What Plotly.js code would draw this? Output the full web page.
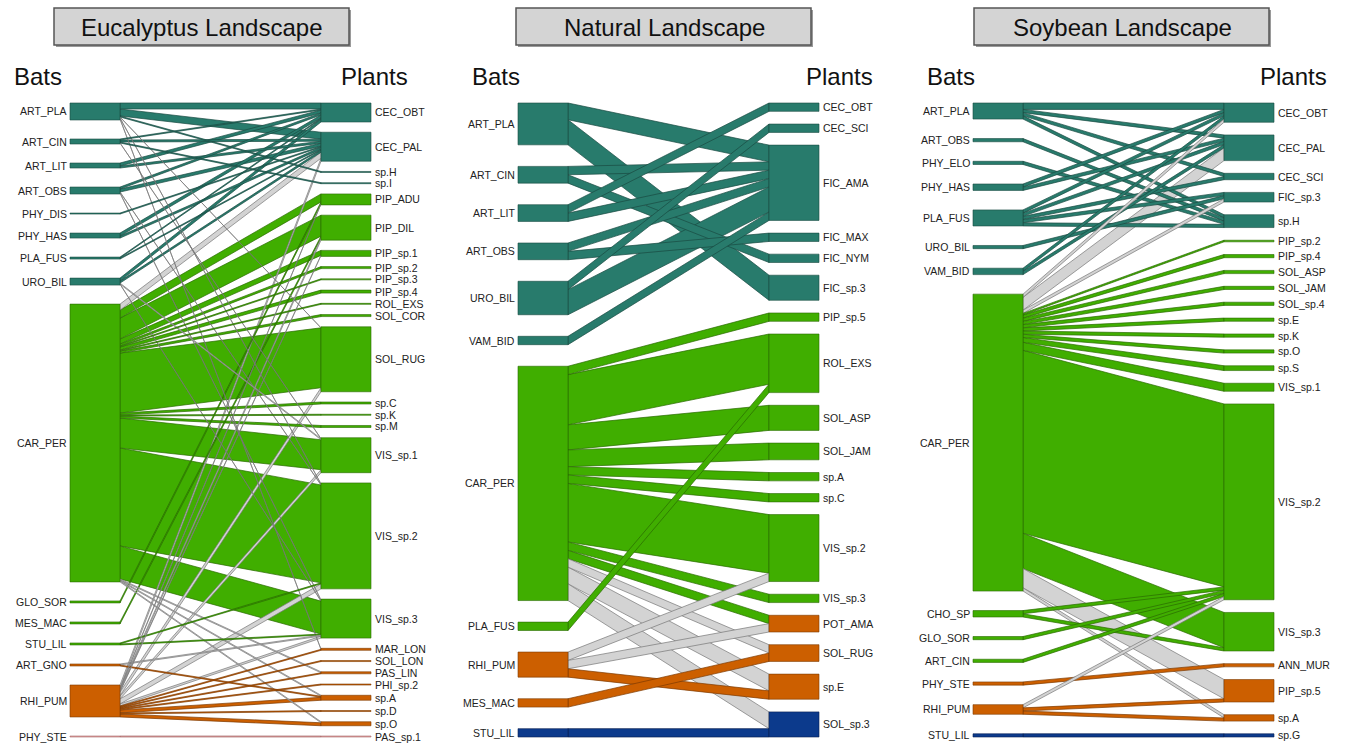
<!DOCTYPE html>
<html>
<head>
<meta charset="utf-8">
<script src="https://cdn.plot.ly/plotly-3.0.1.min.js"></script>
<style>
html, body { margin: 0; padding: 0; background: #ffffff; }
#chart { width: 1347px; height: 743px; }
</style>
</head>
<body>
<div id="chart"></div>
<script>
// Module keys: T = teal, G = green, O = orange, B = blue, P = pink, X = between modules.
// Links are [bat, plant, interactions, optional module override].

// ---------- Eucalyptus landscape ----------
const eucBats = ['ART_PLA','ART_CIN','ART_LIT','ART_OBS','PHY_DIS','PHY_HAS','PLA_FUS','URO_BIL',
  'CAR_PER','GLO_SOR','MES_MAC','STU_LIL','ART_GNO','RHI_PUM','PHY_STE'];
const eucBatModules = ['T','T','T','T','T','T','T','T','G','G','G','G','O','O','P'];
const eucPlants = ['CEC_OBT','CEC_PAL','sp.H','sp.I','PIP_ADU','PIP_DIL','PIP_sp.1','PIP_sp.2','PIP_sp.3',
  'PIP_sp.4','ROL_EXS','SOL_COR','SOL_RUG','sp.C','sp.K','sp.M','VIS_sp.1','VIS_sp.2','VIS_sp.3',
  'MAR_LON','SOL_LON','PAS_LIN','PHI_sp.2','sp.A','sp.D','sp.O','PAS_sp.1'];
const eucPlantModules = ['T','T','T','T','G','G','G','G','G','G','G','G','G','G','G','G','G','G','G',
  'O','O','O','O','O','O','O','P'];
const eucLinks = [
  ['ART_PLA','CEC_OBT',6],['ART_PLA','CEC_PAL',7],['ART_PLA','sp.H',1],['ART_PLA','SOL_RUG',1],
  ['ART_PLA','VIS_sp.2',1],['ART_PLA','MAR_LON',1],
  ['ART_CIN','CEC_OBT',1],['ART_CIN','CEC_PAL',2],['ART_CIN','sp.I',1],['ART_CIN','VIS_sp.1',1],
  ['ART_LIT','CEC_OBT',3],['ART_LIT','CEC_PAL',2],
  ['ART_OBS','CEC_OBT',2],['ART_OBS','CEC_PAL',3],['ART_OBS','VIS_sp.2',1],['ART_OBS','VIS_sp.3',1],
  ['PHY_DIS','CEC_PAL',1],
  ['PHY_HAS','CEC_OBT',3],['PHY_HAS','CEC_PAL',2],
  ['PLA_FUS','CEC_OBT',1],['PLA_FUS','CEC_PAL',1],
  ['URO_BIL','CEC_OBT',3],['URO_BIL','CEC_PAL',2],['URO_BIL','VIS_sp.1',1],['URO_BIL','VIS_sp.3',1],
  ['CAR_PER','CEC_PAL',6],['CAR_PER','PIP_ADU',8],['CAR_PER','PIP_DIL',21],['CAR_PER','PIP_sp.1',5],
  ['CAR_PER','PIP_sp.2',2],['CAR_PER','PIP_sp.3',1],['CAR_PER','PIP_sp.4',3],['CAR_PER','ROL_EXS',1],
  ['CAR_PER','SOL_COR',2],['CAR_PER','SOL_RUG',60],['CAR_PER','sp.C',2],['CAR_PER','sp.K',1],
  ['CAR_PER','sp.M',2],['CAR_PER','VIS_sp.1',30],['CAR_PER','VIS_sp.2',98],['CAR_PER','VIS_sp.3',33],
  ['CAR_PER','PAS_LIN',1],['CAR_PER','sp.A',1],['CAR_PER','sp.O',1],
  ['GLO_SOR','PIP_ADU',2],
  ['MES_MAC','PIP_DIL',2],
  ['STU_LIL','VIS_sp.2',1],['STU_LIL','VIS_sp.3',1],
  ['ART_GNO','VIS_sp.3',1],['ART_GNO','sp.A',1],
  ['RHI_PUM','CEC_PAL',3],['RHI_PUM','PIP_ADU',1],['RHI_PUM','PIP_DIL',2],['RHI_PUM','PIP_sp.1',1],
  ['RHI_PUM','SOL_RUG',4],['RHI_PUM','VIS_sp.1',3],['RHI_PUM','VIS_sp.2',5],['RHI_PUM','VIS_sp.3',2],
  ['RHI_PUM','MAR_LON',1],['RHI_PUM','SOL_LON',1],['RHI_PUM','PAS_LIN',1],['RHI_PUM','PHI_sp.2',1],
  ['RHI_PUM','sp.A',3],['RHI_PUM','sp.D',1],['RHI_PUM','sp.O',3],
  ['PHY_STE','PAS_sp.1',1]
];

// ---------- Natural landscape ----------
const natBats = ['ART_PLA','ART_CIN','ART_LIT','ART_OBS','URO_BIL','VAM_BID','CAR_PER','PLA_FUS',
  'RHI_PUM','MES_MAC','STU_LIL'];
const natBatModules = ['T','T','T','T','T','T','G','G','O','O','B'];
const natPlants = ['CEC_OBT','CEC_SCI','FIC_AMA','FIC_MAX','FIC_NYM','FIC_sp.3','PIP_sp.5','ROL_EXS',
  'SOL_ASP','SOL_JAM','sp.A','sp.C','VIS_sp.2','VIS_sp.3','POT_AMA','SOL_RUG','sp.E','SOL_sp.3'];
const natPlantModules = ['T','T','T','T','T','T','G','G','G','G','G','G','G','G','O','O','O','B'];
const natLinks = [
  ['ART_PLA','FIC_AMA',2],['ART_PLA','FIC_sp.3',3],
  ['ART_CIN','FIC_AMA',1],['ART_CIN','FIC_NYM',1],
  ['ART_LIT','CEC_OBT',1],['ART_LIT','FIC_AMA',1],
  ['ART_OBS','FIC_AMA',1],['ART_OBS','FIC_MAX',1],
  ['URO_BIL','CEC_SCI',1],['URO_BIL','FIC_AMA',3],
  ['VAM_BID','FIC_AMA',1],
  ['CAR_PER','PIP_sp.5',1],['CAR_PER','ROL_EXS',6],['CAR_PER','SOL_ASP',3],['CAR_PER','SOL_JAM',2],
  ['CAR_PER','sp.A',1],['CAR_PER','sp.C',1],['CAR_PER','VIS_sp.2',7],['CAR_PER','VIS_sp.3',1],
  ['CAR_PER','POT_AMA',1,'G'],['CAR_PER','SOL_RUG',1],['CAR_PER','sp.E',2],['CAR_PER','SOL_sp.3',2],
  ['PLA_FUS','ROL_EXS',1],
  ['RHI_PUM','VIS_sp.2',1],['RHI_PUM','POT_AMA',1,'X'],['RHI_PUM','sp.E',1],
  ['MES_MAC','SOL_RUG',1],
  ['STU_LIL','SOL_sp.3',1]
];

// ---------- Soybean landscape ----------
const soyBats = ['ART_PLA','ART_OBS','PHY_ELO','PHY_HAS','PLA_FUS','URO_BIL','VAM_BID','CAR_PER',
  'CHO_SP','GLO_SOR','ART_CIN','PHY_STE','RHI_PUM','STU_LIL'];
const soyBatModules = ['T','T','T','T','T','T','T','G','G','G','G','O','O','B'];
const soyPlants = ['CEC_OBT','CEC_PAL','CEC_SCI','FIC_sp.3','sp.H','PIP_sp.2','PIP_sp.4','SOL_ASP',
  'SOL_JAM','SOL_sp.4','sp.E','sp.K','sp.O','sp.S','VIS_sp.1','VIS_sp.2','VIS_sp.3','ANN_MUR',
  'PIP_sp.5','sp.A','sp.G'];
const soyPlantModules = ['T','T','T','T','T','G','G','G','G','G','G','G','G','G','G','G','G','O','O','O','B'];
const soyLinks = [
  ['ART_PLA','CEC_OBT',2],['ART_PLA','CEC_PAL',1],['ART_PLA','CEC_SCI',1],['ART_PLA','sp.H',1],
  ['ART_OBS','sp.H',1],
  ['PHY_ELO','sp.H',1],
  ['PHY_HAS','CEC_OBT',1],['PHY_HAS','CEC_PAL',1],
  ['PLA_FUS','CEC_OBT',1],['PLA_FUS','CEC_PAL',1],['PLA_FUS','CEC_SCI',1],['PLA_FUS','FIC_sp.3',1],
  ['PLA_FUS','sp.H',1],
  ['URO_BIL','FIC_sp.3',1],
  ['VAM_BID','CEC_OBT',1],['VAM_BID','CEC_PAL',1],
  ['CAR_PER','CEC_OBT',1],['CAR_PER','CEC_PAL',4],['CAR_PER','FIC_sp.3',1],['CAR_PER','PIP_sp.2',0.5],
  ['CAR_PER','PIP_sp.4',1],['CAR_PER','SOL_ASP',1],['CAR_PER','SOL_JAM',1],['CAR_PER','SOL_sp.4',1],
  ['CAR_PER','sp.E',1],['CAR_PER','sp.K',1],['CAR_PER','sp.O',1],['CAR_PER','sp.S',1.5],
  ['CAR_PER','VIS_sp.1',2.5],['CAR_PER','VIS_sp.2',57],['CAR_PER','VIS_sp.3',11],
  ['CAR_PER','PIP_sp.5',6],['CAR_PER','sp.A',1],
  ['CHO_SP','VIS_sp.2',1],['CHO_SP','VIS_sp.3',1],
  ['GLO_SOR','VIS_sp.2',1],
  ['ART_CIN','VIS_sp.2',1],
  ['PHY_STE','ANN_MUR',1],
  ['RHI_PUM','VIS_sp.2',1],['RHI_PUM','PIP_sp.5',1],['RHI_PUM','sp.A',1],
  ['STU_LIL','sp.G',1]
];

const panelTitles = ['Eucalyptus Landscape','Natural Landscape','Soybean Landscape'];

// ---------- drawing ----------
const moduleFill = { T:'#287b6c', G:'#40ae00', O:'#cc5f00', B:'#0c3a8c', P:'#e6a6a6', X:'#d3d3d3' };
const moduleEdge = { T:'#1a4b42', G:'#2a6a00', O:'#7c3a00', B:'#071f52', P:'#a86a6a', X:'#777777' };
const FONT = 'Liberation Sans, Arial, sans-serif';

const panels = [
  { bats:eucBats, batMods:eucBatModules, plants:eucPlants, plantMods:eucPlantModules, links:eucLinks,
    ox:70, gapShare:0.42, titleCx:202, batsX:12, plantsXR:410 },
  { bats:natBats, batMods:natBatModules, plants:natPlants, plantMods:natPlantModules, links:natLinks,
    ox:518, gapShare:0.34, titleCx:664, batsX:470, plantsXR:875 },
  { bats:soyBats, batMods:soyBatModules, plants:soyPlants, plantMods:soyPlantModules, links:soyLinks,
    ox:973, gapShare:0.40, titleCx:1122, batsX:925, plantsXR:1329 }
];

const TOP = 103, BOTTOM = 737, BOXW = 50, SPAN = 251;
const traces = [];
const annotations = [];
const shapes = [];

function stackColumn(names, totals, scale, gap) {
  const y0 = [];
  let y = TOP;
  names.forEach((n, i) => { y0.push(y); y += totals[i] * scale + gap; });
  return y0;
}

panels.forEach((p, pi) => {
  const H = BOTTOM - TOP;
  const bIdx = {}, pIdx = {};
  p.bats.forEach((b, i) => bIdx[b] = i);
  p.plants.forEach((q, i) => pIdx[q] = i);
  const bTot = p.bats.map(() => 0), pTot = p.plants.map(() => 0);
  p.links.forEach(l => { bTot[bIdx[l[0]]] += l[2]; pTot[pIdx[l[1]]] += l[2]; });
  const T = bTot.reduce((a, c) => a + c, 0);
  const scale = H * (1 - p.gapShare) / T;
  const gapB = H * p.gapShare / (p.bats.length - 1);
  const gapP = H * p.gapShare / (p.plants.length - 1);
  const bY = stackColumn(p.bats, bTot, scale, gapB);
  const pY = stackColumn(p.plants, pTot, scale, gapP);

  const xbL = p.ox, xbR = p.ox + BOXW, xpL = p.ox + SPAN, xpR = p.ox + SPAN + BOXW;

  // link end positions: stacked by partner order on each side
  const ends = p.links.map(() => ({}));
  p.bats.forEach((b, bi) => {
    let off = bY[bi];
    p.links.map((l, k) => k).filter(k => bIdx[p.links[k][0]] === bi)
      .sort((a, c) => pIdx[p.links[a][1]] - pIdx[p.links[c][1]])
      .forEach(k => { ends[k].b0 = off; off += p.links[k][2] * scale; ends[k].b1 = off; });
  });
  p.plants.forEach((q, qi) => {
    let off = pY[qi];
    p.links.map((l, k) => k).filter(k => pIdx[p.links[k][1]] === qi)
      .sort((a, c) => bIdx[p.links[a][0]] - bIdx[p.links[c][0]])
      .forEach(k => { ends[k].p0 = off; off += p.links[k][2] * scale; ends[k].p1 = off; });
  });

  // wide links first, thin ones drawn over them
  const order = p.links.map((l, k) => k).sort((a, c) => p.links[c][2] - p.links[a][2] || a - c);
  order.forEach(k => {
    const l = p.links[k];
    const bm = p.batMods[bIdx[l[0]]], pm = p.plantMods[pIdx[l[1]]];
    const m = l[3] || (bm === pm ? bm : 'X');
    const e = ends[k];
    traces.push({
      type:'scatter', mode:'lines', fill:'toself',
      x:[xbR, xpL, xpL, xbR, xbR],
      y:[e.b0, e.p0, e.p1, e.b1, e.b0],
      fillcolor:moduleFill[m],
      line:{ color:moduleEdge[m], width:0.7 },
      hoverinfo:'text', text:l[0] + ' – ' + l[1] + ': ' + l[2],
      showlegend:false
    });
  });

  // node boxes, grouped by module colour
  const groups = {};
  function addBox(m, x0, x1, y0, y1) {
    if (!groups[m]) groups[m] = { x:[], y:[] };
    groups[m].x.push(x0, x1, x1, x0, x0, null);
    groups[m].y.push(y0, y0, y1, y1, y0, null);
  }
  p.bats.forEach((b, i) => addBox(p.batMods[i], xbL, xbR, bY[i], bY[i] + bTot[i] * scale));
  p.plants.forEach((q, i) => addBox(p.plantMods[i], xpL, xpR, pY[i], pY[i] + pTot[i] * scale));
  Object.keys(groups).forEach(m => {
    traces.push({
      type:'scatter', mode:'lines', fill:'toself', x:groups[m].x, y:groups[m].y,
      fillcolor:moduleFill[m], line:{ color:moduleEdge[m], width:0.6 },
      hoverinfo:'skip', showlegend:false
    });
  });

  // node labels
  p.bats.forEach((b, i) => annotations.push({
    x:xbL - 1.5, y:bY[i] + bTot[i] * scale / 2, xref:'x', yref:'y', text:b, showarrow:false,
    xanchor:'right', yanchor:'middle', font:{ family:FONT, size:10.5, color:'#222' }
  }));
  p.plants.forEach((q, i) => annotations.push({
    x:xpR + 1.5, y:pY[i] + pTot[i] * scale / 2, xref:'x', yref:'y', text:q, showarrow:false,
    xanchor:'left', yanchor:'middle', font:{ family:FONT, size:10.5, color:'#222' }
  }));

  // column headers
  annotations.push({ x:p.batsX, y:76, xref:'x', yref:'y', text:'Bats', showarrow:false,
    xanchor:'left', yanchor:'middle', font:{ family:FONT, size:24, color:'#111' } });
  annotations.push({ x:p.plantsXR, y:76, xref:'x', yref:'y', text:'Plants', showarrow:false,
    xanchor:'right', yanchor:'middle', font:{ family:FONT, size:24, color:'#111' } });

  // panel title box
  shapes.push({ type:'rect', xref:'x', yref:'y', x0:p.titleCx - 146, x1:p.titleCx + 149, y0:10, y1:47,
    fillcolor:'#9a9a9a', line:{ width:0 }, layer:'below' });
  shapes.push({ type:'rect', xref:'x', yref:'y', x0:p.titleCx - 148, x1:p.titleCx + 147, y0:8, y1:45,
    fillcolor:'#d4d4d4', line:{ color:'#555555', width:1.5 }, layer:'below' });
  annotations.push({ x:p.titleCx, y:27, xref:'x', yref:'y', text:panelTitles[pi], showarrow:false,
    xanchor:'center', yanchor:'middle', font:{ family:FONT, size:24, color:'#111' } });
});

const layout = {
  width:1347, height:743,
  margin:{ l:0, r:0, t:0, b:0 },
  paper_bgcolor:'#ffffff', plot_bgcolor:'#ffffff',
  xaxis:{ range:[0, 1347], visible:false, fixedrange:true },
  yaxis:{ range:[743, 0], visible:false, fixedrange:true },
  showlegend:false,
  annotations:annotations,
  shapes:shapes,
  hovermode:'closest'
};

Plotly.newPlot('chart', traces, layout, { displayModeBar:false });
</script>
</body>
</html>
